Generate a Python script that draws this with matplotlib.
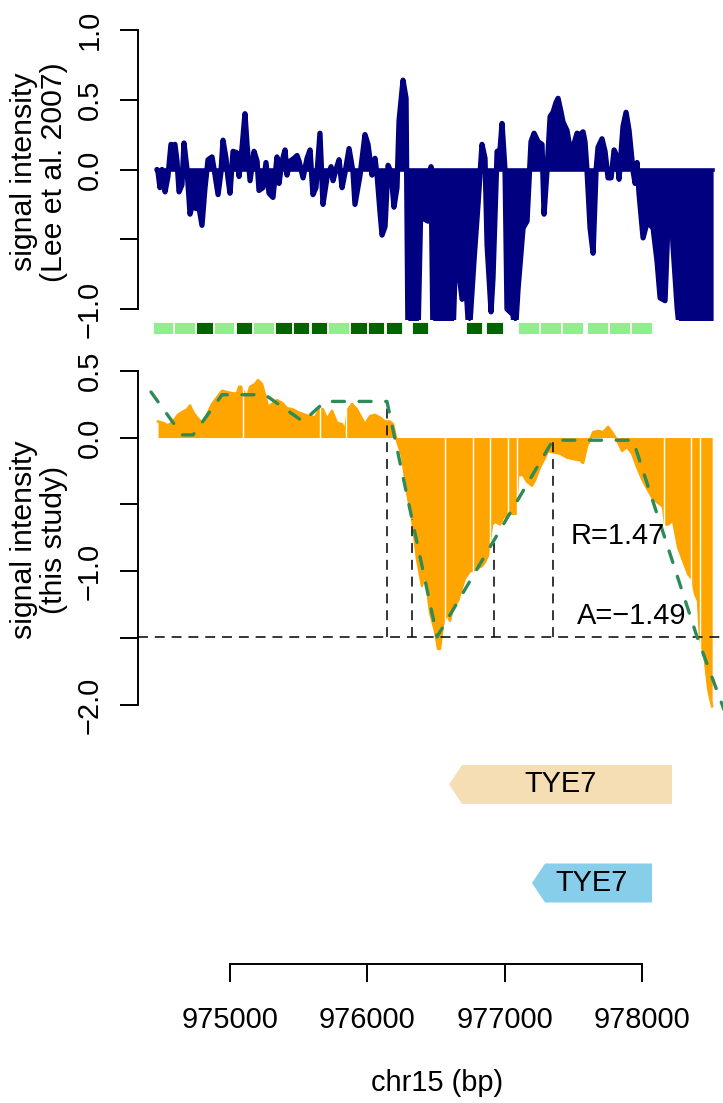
import numpy as np
import matplotlib
matplotlib.use("Agg")
import matplotlib.pyplot as plt
from matplotlib.patches import Polygon

plt.rcParams['font.family'] = ['Liberation Sans', 'DejaVu Sans']
plt.rcParams['axes.unicode_minus'] = True

# ---------------- data ----------------
# Lee et al. 2007 signal (top panel); -1.2 = beyond the axis (clipped)
lee_pos = [974468, 974476, 974490, 974505, 974527, 974548, 974570, 974585, 974599, 974614,
           974629, 974650, 974665, 974687, 974709, 974731, 974752, 974767, 974796, 974818,
           974840, 974869, 974891, 974913, 974934, 974949, 974971, 974985, 975000, 975022,
           975051, 975066, 975087, 975109, 975124, 975146, 975175, 975197, 975211, 975240,
           975262, 975284, 975313, 975342, 975357, 975379, 975401, 975415, 975437, 975466,
           975488, 975503, 975532, 975561, 975583, 975604, 975626, 975655, 975677, 975706,
           975736, 975750, 975772, 975794, 975816, 975838, 975867, 975896, 975910, 975947,
           975983, 976005, 976034, 976056, 976071, 976092, 976107, 976129, 976151, 976173,
           976194, 976216, 976231, 976260, 976282, 976296, 976369, 976391, 976406, 976442,
           976464, 976478, 976624, 976639, 976668, 976690, 976712, 976741, 976777, 976806,
           976835, 976857, 976872, 976901, 976915, 976945, 976966, 976981, 977003, 977017,
           977061, 977076, 977098, 977134, 977163, 977192, 977214, 977243, 977272, 977287,
           977309, 977331, 977352, 977374, 977389, 977411, 977425, 977454, 977476, 977498,
           977527, 977549, 977571, 977585, 977600, 977622, 977644, 977666, 977680, 977709,
           977731, 977753, 977775, 977797, 977819, 977833, 977862, 977884, 977906, 977935,
           977950, 977964, 977979, 978008, 978037, 978052, 978081, 978110, 978132, 978168,
           978190, 978219, 978226, 978256, 978277, 978518]
lee_val = [0.0, -0.02, -0.13, 0.0, -0.16, -0.05, 0.18, 0.17, 0.18, 0.06,
           -0.16, -0.11, 0.19, 0.0, -0.32, -0.23, -0.28, -0.23, -0.40, -0.13,
           0.07, 0.09, -0.04, -0.18, -0.02, 0.21, 0.08, -0.06, -0.17, 0.13,
           0.12, -0.05, 0.15, 0.40, 0.18, -0.08, 0.13, 0.06, -0.15, -0.13,
           0.05, -0.17, -0.20, 0.09, -0.10, 0.06, 0.14, -0.04, 0.06, 0.08,
           0.10, 0.06, -0.06, 0.08, 0.14, -0.18, -0.13, 0.26, -0.25, -0.06,
           0.02, -0.08, 0.0, 0.07, -0.13, -0.02, 0.15, -0.02, -0.25, -0.04,
           0.25, 0.18, -0.04, 0.08, -0.04, -0.30, -0.47, -0.41, 0.03, -0.02,
           -0.27, -0.13, 0.35, 0.64, 0.51, -1.2, -1.2, -0.18, -0.35, -0.37,
           0.02, -1.2, -1.2, -0.72, -0.75, -0.93, -0.73, -1.2, -0.65, -0.25,
           0.18, 0.08, -0.54, -1.02, -0.78, 0.13, 0.14, 0.33, -0.01, -1.0,
           -1.04, -1.2, -0.85, -0.42, -0.37, 0.20, 0.26, 0.20, 0.18, -0.32,
           0.0, 0.38, 0.41, 0.48, 0.51, 0.41, 0.34, 0.28, 0.15, 0.16,
           0.26, 0.25, 0.27, 0.20, -0.01, -0.42, -0.60, 0.0, 0.16, 0.22,
           0.13, -0.06, -0.06, 0.14, 0.09, -0.07, 0.31, 0.41, 0.28, -0.01,
           -0.10, 0.05, -0.18, -0.49, -0.38, -0.39, -0.42, -0.66, -0.92, -0.94,
           -0.37, -0.39, -0.55, -0.99, -1.2, -1.2]

# probe blocks under the top panel (start, end, dark?)
blk_start = [974439, 974592, 974752, 974880, 975044, 975168, 975328, 975459, 975590, 975714,
             975874, 976005, 976136, 976326, 976719, 976865, 977098, 977258, 977418, 977600,
             977760, 977921]
blk_end = [974585, 974745, 974876, 975029, 975160, 975320, 975452, 975575, 975706, 975867,
           975998, 976122, 976253, 976442, 976835, 976988, 977251, 977411, 977571, 977753,
           977913, 978074]
blk_dark = [0, 0, 1, 0, 1, 0, 1, 1, 1, 0,
            1, 1, 1, 1, 1, 1, 0, 0, 0, 0,
            0, 0]

# this study signal (bottom panel)
st_pos = [974476, 974512, 974548, 974585, 974621, 974650, 974687, 974709, 974731, 974760,
          974796, 974832, 974869, 974905, 974942, 974978, 975022, 975051, 975066, 975080,
          975124, 975146, 975182, 975204, 975233, 975255, 975277, 975306, 975342, 975379,
          975415, 975459, 975495, 975546, 975583, 975619, 975655, 975677, 975706, 975743,
          975779, 975816, 975838, 975859, 975889, 975925, 975961, 975983, 976020, 976056,
          976092, 976129, 976165, 976187, 976209, 976224, 976253, 976289, 976326, 976362,
          976398, 976420, 976457, 976493, 976515, 976529, 976551, 976580, 976602, 976624,
          976661, 976690, 976712, 976748, 976784, 976835, 976857, 976879, 976908, 976930,
          976966, 976988, 977017, 977039, 977083, 977098, 977134, 977163, 977199, 977221,
          977258, 977294, 977316, 977352, 977403, 977454, 977498, 977549, 977571, 977600,
          977622, 977644, 977680, 977717, 977753, 977782, 977819, 977855, 977891, 977928,
          977964, 978001, 978037, 978081, 978132, 978154, 978168, 978190, 978226, 978263,
          978299, 978336, 978365, 978387, 978408, 978423, 978459, 978481, 978496, 978511]
st_val = [0.12, 0.11, 0.09, 0.12, 0.17, 0.19, 0.21, 0.24, 0.19, 0.15,
          0.11, 0.17, 0.25, 0.30, 0.35, 0.34, 0.33, 0.33, 0.38, 0.38,
          0.30, 0.38, 0.40, 0.43, 0.40, 0.32, 0.23, 0.25, 0.28, 0.26,
          0.22, 0.21, 0.19, 0.17, 0.16, 0.15, 0.22, 0.21, 0.14, 0.20,
          0.11, 0.10, 0.05, 0.21, 0.25, 0.21, 0.14, 0.10, 0.16, 0.17,
          0.15, 0.12, 0.12, 0.10, 0.0, -0.05, -0.14, -0.41, -0.61, -0.91,
          -1.11, -1.01, -1.31, -1.45, -1.58, -1.58, -1.40, -1.32, -1.37, -1.27,
          -1.22, -1.12, -1.05, -1.00, -0.99, -0.96, -0.93, -0.88, -0.65, -0.63,
          -0.65, -0.60, -0.58, -0.57, -0.57, -0.28, -0.28, -0.33, -0.36, -0.32,
          -0.22, -0.15, -0.10, -0.11, -0.12, -0.15, -0.16, -0.17, -0.19, -0.06,
          -0.02, 0.04, 0.05, 0.04, 0.08, 0.04, -0.02, -0.10, -0.07, -0.12,
          -0.22, -0.31, -0.38, -0.46, -0.50, -0.52, -0.65, -0.65, -0.62, -0.82,
          -0.92, -1.02, -1.06, -1.17, -1.22, -1.50, -1.67, -1.87, -1.95, -2.01]
st_breaks = [975098, 975655, 975845, 976566, 976770, 976894, 977025, 977090, 978161, 978357,
             978423]

# fitted piecewise-linear model (green dashed)
fit_pos = [974425, 974650, 974731, 974942, 975255, 975532, 975692, 976143, 976508, 977352,
           977935, 978401, 978700]
fit_val = [0.34, 0.02, 0.02, 0.32, 0.32, 0.12, 0.27, 0.27, -1.49, -0.02,
           -0.02, -1.49, -2.32]
mark_pos = [976143, 976326, 976923, 977352]
A_level = -1.49
labels_txt = ["R=1.47", "A=\u22121.49"]
labels_pos = [977826, 977928]
labels_y = [-0.736, -1.335]

# genes
gene_names = ["TYE7", "TYE7"]
gene_start = [976595, 977199]
gene_end = [978219, 978073]
gene_track = [1, 0]
gene_col = ["#F5DEB3", "#87CEEB"]

x_ticks = [975000, 976000, 977000, 978000]
top_ticks = [-1.0, -0.5, 0.0, 0.5, 1.0]
top_ticklabels = ["\u22121.0", "", "0.0", "0.5", "1.0"]
bot_ticks = [-2.0, -1.5, -1.0, -0.5, 0.0, 0.5]
bot_ticklabels = ["\u22122.0", "", "\u22121.0", "", "0.0", "0.5"]

# ---------------- layout ----------------
W, H = 723, 1103
fig = plt.figure(figsize=(W / 100, H / 100), dpi=100)
FS = 20.9
FSL = 21.8
XLIM = (974330, 978590)


def ax_px(left, top, right, bottom):
    return fig.add_axes([left / W, 1 - bottom / H, (right - left) / W, (bottom - top) / H])


def style_yaxis(ax, ticks, labels, lo, hi):
    for s in ['top', 'right', 'bottom']:
        ax.spines[s].set_visible(False)
    ax.spines['left'].set_bounds(lo, hi)
    ax.spines['left'].set_linewidth(1.4)
    ax.set_xticks([])
    ax.set_yticks(ticks)
    ax.set_yticklabels(labels, rotation=90, va='center', fontsize=FS)
    ax.tick_params(axis='y', direction='out', length=13, width=1.4, pad=11.5)
    ax.patch.set_visible(False)


navy = "#000080"
# top panel
ax1 = ax_px(138, 18.8, 723, 320.2)
ax1.set_xlim(*XLIM)
ax1.set_ylim(-1.08, 1.08)
lx = np.array(lee_pos, float)
ly = np.array(lee_val, float)
ax1.fill_between(lx, 0, ly, color=navy, lw=0)
ax1.plot(lx, ly, color=navy, lw=3.8, solid_joinstyle='round', solid_capstyle='round')
ax1.plot([lx[0], lx[-1]], [0, 0], color=navy, lw=2.6)
style_yaxis(ax1, top_ticks, top_ticklabels, -1, 1)

# probe blocks
axb = ax_px(138, 322, 723, 333.5)
axb.set_xlim(*XLIM)
axb.set_ylim(0, 1)
axb.axis('off')
bs = np.array(blk_start, float)
be = np.array(blk_end, float)
cols = ["#006400" if d else "#90EE90" for d in blk_dark]
axb.bar(bs, np.ones_like(bs), width=be - bs, align='edge', color=cols,
        edgecolor='white', linewidth=0.6)

# bottom panel
ax2 = ax_px(138, 357.3, 723, 718.4)
ax2.set_xlim(*XLIM)
ax2.set_ylim(-2.1, 0.6)
sx = np.array(st_pos, float)
sy = np.array(st_val, float)
ax2.fill_between(sx, 0, sy, color="#FFA500", lw=0)
ax2.plot(sx, sy, color="#FFA500", lw=1.8, solid_joinstyle='round')
ax2.vlines(st_breaks, -2.1, 0.6, color='white', lw=1.0)
ax2.axhline(A_level, color='black', lw=1.1, ls=(0, (6.5, 4.5)))
fx = np.array(fit_pos, float)
fy = np.array(fit_val, float)
mtop = np.interp(mark_pos, fx, fy)
ax2.vlines(mark_pos, A_level, mtop, color='black', lw=1.1, ls=(0, (6.5, 4.5)))
ax2.plot(fx, fy, color="#2E8B57", lw=2.4, dashes=(3.6, 4.4), dash_capstyle='round')
for t, xx, yy in zip(labels_txt, labels_pos, labels_y):
    ax2.text(xx, yy, t, ha='center', va='center', fontsize=FS)
style_yaxis(ax2, bot_ticks, bot_ticklabels, -2.0, 0.5)

# gene track
axg = ax_px(138, 735.25, 723, 932.25)
axg.set_xlim(*XLIM)
axg.set_ylim(-0.5, 1.5)
axg.axis('off')
head = 95
hh = 0.198
for name, s, e, tr, c in zip(gene_names, gene_start, gene_end, gene_track, gene_col):
    poly = Polygon([(s, tr), (s + head, tr + hh), (e, tr + hh), (e, tr - hh), (s + head, tr - hh)],
                   closed=True, facecolor=c, edgecolor='none')
    axg.add_patch(poly)
    axg.text((s + e) / 2, tr, name, ha='center', va='center', fontsize=FS)

# x axis
axx = ax_px(138, 954, 723, 964)
axx.set_xlim(*XLIM)
for s in ['top', 'right', 'left']:
    axx.spines[s].set_visible(False)
axx.spines['bottom'].set_bounds(x_ticks[0], x_ticks[-1])
axx.spines['bottom'].set_linewidth(1.4)
axx.set_yticks([])
axx.set_xticks(x_ticks)
axx.set_xticklabels([str(v) for v in x_ticks], fontsize=FS)
axx.tick_params(axis='x', direction='out', length=13, width=1.4, pad=17)
axx.patch.set_visible(False)

# axis titles
fig.text(23.5 / W, 1 - 172 / H, "signal intensity", rotation=90, ha='center', va='center', fontsize=FSL)
fig.text(54 / W, 1 - 172 / H, "(Lee et al. 2007)", rotation=90, ha='center', va='center', fontsize=FSL)
fig.text(23.5 / W, 1 - 540 / H, "signal intensity", rotation=90, ha='center', va='center', fontsize=FSL)
fig.text(54 / W, 1 - 540 / H, "(this study)", rotation=90, ha='center', va='center', fontsize=FSL)
fig.text(437 / W, 1 - 1083 / H, "chr15 (bp)", ha='center', va='center', fontsize=FS)

fig.savefig("out.png", dpi=100)
